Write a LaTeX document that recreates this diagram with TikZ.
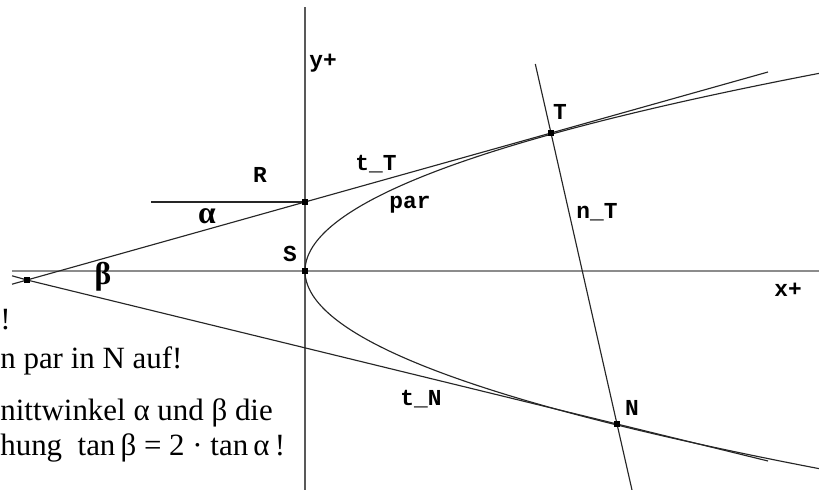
\documentclass[tikz,border=0pt]{standalone}
\usepackage{fontspec}
\setmainfont{Liberation Serif}
\newfontfamily\monofont{Liberation Mono}
\usepackage{tikz}
\usetikzlibrary{calc}
\tikzstyle{axis} = [draw=black!45, line width=0.6pt]
\tikzstyle{yaxis} = [draw=black!65, line width=0.6pt]
\tikzstyle{line} = [draw=black!85, line width=0.65pt]
\tikzstyle{dot} = [fill=black, rectangle, minimum size=0.11cm, inner sep=0pt]
\tikzstyle{lbl} = [font=\monofont\bfseries\fontsize{13}{15}\selectfont, inner sep=0pt]
\tikzstyle{greek} = [font=\bfseries\fontsize{18}{20}\selectfont, inner sep=0pt]
\tikzstyle{txt} = [font=\fontsize{17.6}{21}\selectfont, anchor=base west, inner sep=0pt]

\begin{document}
\begin{tikzpicture}[x=0.02cm, y=-0.02cm]
    \useasboundingbox (0,0) rectangle (819,490);
    \clip (0,0) rectangle (819,490);

    % Points
    \coordinate (S) at (305,271);
    \coordinate (R) at (305,202);
    \coordinate (T) at (551,133);
    \coordinate (N) at (617,424);
    \coordinate (P) at (27,280);

    % Line ends
    \coordinate (xl) at (12,271);
    \coordinate (xr) at (819,271);
    \coordinate (yt) at (305,7);
    \coordinate (yb) at (305,490);
    \coordinate (hl) at (151,202);
    \coordinate (tTl) at (12,284.2);
    \coordinate (tTr) at (768,72);
    \coordinate (tNl) at (12,275.8);
    \coordinate (tNr) at (768,461);
    \coordinate (nTt) at (535.3,64);
    \coordinate (nTb) at (632,490);

    % Axes
    \draw [axis] (xl) -- (xr);
    \draw [yaxis] (yt) -- (yb);

    % Tangents, normal and parabola
    \draw [line] (hl) -- (R);
    \draw [line] (tTl) -- (P) -- (R) -- (T) -- (tTr);
    \draw [line] (tNl) -- (P) -- (N) -- (tNr);
    \draw [line] (nTt) -- (T) -- (N) -- (nTb);
    \draw [line] plot[domain=-20.5:20.5, samples=83, smooth] ({305+1.316*\x*\x},{271+10*\x});

    % Dots
    \node (dS) [dot] at (S) {};
    \node (dR) [dot] at (R) {};
    \node (dT) [dot] at (T) {};
    \node (dN) [dot] at (N) {};
    \node (dP) [dot] at (P) {};

    % Labels
    \node (ly) [lbl] at (323,63) {y+};
    \node (lx) [lbl] at (788,290) {x+};
    \node (lT) [lbl] at (560,112) {T};
    \node (lR) [lbl] at (260,175) {R};
    \node (ltT) [lbl] at (376,164) {t\_T};
    \node (lpar) [lbl] at (410,205) {par};
    \node (lS) [lbl] at (290,254) {S};
    \node (lnT) [lbl] at (597,212) {n\_T};
    \node (lN) [lbl] at (632,408) {N};
    \node (ltN) [lbl] at (421,399) {t\_N};
    \node (la) [greek] at (207,216) {α};
    \node (lb) [greek] at (103,277) {β};

    % Task text
    \node (z1) [txt] at (0,329) {!};
    \node (z2) [txt] at (0,368) {n par in N auf!};
    \node (z3) [txt] at (0,420) {nittwinkel α und β die};
    \node (z4) [txt] at (0,455) {hung\ \ tan\,β = 2 · tan\,α\,!};
\end{tikzpicture}
\end{document}
